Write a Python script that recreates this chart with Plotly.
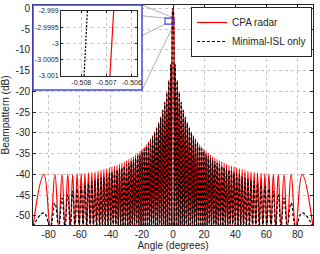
import plotly.graph_objects as go

# ---------------- data ----------------
# Side-lobe peak angles (deg) on the positive side (pattern is symmetric)
SIDELOBE_PEAK_DEG = [1.43, 2.72, 4.01, 5.31, 6.60, 7.90, 9.21, 10.52, 11.83, 13.15,
                     14.48, 15.81, 17.16, 18.51, 19.88, 21.25, 22.64, 24.05, 25.47, 26.90,
                     28.36, 29.83, 31.33, 32.85, 34.40, 35.98, 37.59, 39.24, 40.92, 42.65,
                     44.43, 46.26, 48.16, 50.14, 52.19, 54.34, 56.61, 59.04, 61.64, 64.49,
                     67.67, 71.35, 75.93, 83.0]
# Null angles (deg) between the lobes, positive side
SIDELOBE_NULL_DEG = [0.79, 2.08, 3.37, 4.66, 5.96, 7.25, 8.55, 9.86, 11.17, 12.49,
                     13.81, 15.14, 16.48, 17.83, 19.19, 20.56, 21.95, 23.34, 24.75, 26.18,
                     27.63, 29.09, 30.58, 32.09, 33.63, 35.19, 36.78, 38.41, 40.07, 41.77,
                     43.53, 45.34, 47.2, 49.14, 51.15, 53.25, 55.46, 57.81, 60.31, 63.03,
                     66.03, 69.43, 73.48, 78.89, 90.0]
NULL_DB = -52.6  # nulls fall below the bottom of the axis

CPA_PEAK_DB = [-13.5, -17.3, -20.2, -22.5, -24.4, -26.0, -27.4, -28.6, -29.7, -30.6,
               -31.4, -32.1, -32.8, -33.4, -33.9, -34.4, -34.9, -35.3, -35.7, -36.0,
               -36.4, -36.7, -37.0, -37.3, -37.5, -37.8, -38.0, -38.2, -38.4, -38.6,
               -38.8, -39.0, -39.2, -39.4, -39.5, -39.6, -39.7, -39.8, -39.9, -40.0,
               -40.0, -40.0, -40.0, -40.0]
ISL_PEAK_DB = [-13.6, -17.5, -20.4, -22.7, -24.6, -26.3, -27.7, -29.0, -30.1, -31.0,
               -31.8, -32.6, -33.3, -33.9, -34.5, -35.1, -35.6, -36.1, -36.5, -36.9,
               -37.3, -37.7, -38.0, -38.4, -38.7, -39.0, -39.3, -39.6, -39.9, -40.2,
               -40.6, -40.9, -41.2, -41.5, -41.8, -42.2, -42.6, -43.0, -43.5, -44.1,
               -44.8, -45.7, -46.9, -49.3]

# Main lobe
CPA_MAIN_DEG = [-0.5068, -0.25, 0.0, 0.25, 0.5068]
ISL_MAIN_DEG = [-0.5078, -0.25, 0.0, 0.25, 0.5078]
MAIN_DB = [-3.0, -0.75, 0.0, -0.75, -3.0]

# Inset (zoom near the -3 dB point)
INSET_DB = [-3.001, -2.999]
INSET_CPA_DEG = [-0.50687, -0.50672]
INSET_ISL_DEG = [-0.50789, -0.50776]

X_TICKS = [-80, -60, -40, -20, 0, 20, 40, 60, 80]
Y_TICKS = [0, -5, -10, -15, -20, -25, -30, -35, -40, -45, -50]
INSET_X_TICKS = [-0.508, -0.507, -0.506]
INSET_X_LABELS = ["-0.508", "-0.507", "-0.506"]
INSET_Y_TICKS = [-2.999, -2.9995, -3.0, -3.0005, -3.001]
INSET_Y_LABELS = ["-2.999", "-2.9995", "-3", "-3.0005", "-3.001"]

# zoom rectangle drawn on the main axes (data units)
ZOOM_BOX_X = [-5.14, 0.64]
ZOOM_BOX_Y = [-3.81, -2.36]

X_RANGE = [-90, 90]
Y_RANGE = [-52.2, 0.8]


def build(main_deg, peaks_db):
    n = len(SIDELOBE_PEAK_DEG)
    xs, ys = [], []
    for k in reversed(range(n)):
        xs += [-SIDELOBE_NULL_DEG[k + 1], -SIDELOBE_PEAK_DEG[k]]
        ys += [NULL_DB, peaks_db[k]]
    xs.append(-SIDELOBE_NULL_DEG[0]); ys.append(NULL_DB)
    xs += main_deg; ys += MAIN_DB
    xs.append(SIDELOBE_NULL_DEG[0]); ys.append(NULL_DB)
    for k in range(n):
        xs += [SIDELOBE_PEAK_DEG[k], SIDELOBE_NULL_DEG[k + 1]]
        ys += [peaks_db[k], NULL_DB]
    return xs, ys


cpa_x, cpa_y = build(CPA_MAIN_DEG, CPA_PEAK_DB)
isl_x, isl_y = build(ISL_MAIN_DEG, ISL_PEAK_DB)

FONT = "Liberation Sans, Arial, Helvetica, sans-serif"
AXC = "#262626"
GRID = "#c4c4c4"

fig = go.Figure()
fig.add_trace(go.Scatter(x=cpa_x, y=cpa_y, mode="lines", name="CPA radar",
                         line=dict(color="#ff0000", width=1.2, shape="spline", smoothing=1.3),
                         hoverinfo="skip"))
fig.add_trace(go.Scatter(x=isl_x, y=isl_y, mode="lines", name="Minimal-ISL only",
                         line=dict(color="#000000", width=1.2, dash="3px,2px", shape="spline",
                                   smoothing=1.3),
                         hoverinfo="skip"))
# carrier for the inset background box
fig.add_trace(go.Scatter(x=[], y=[], xaxis="x2", yaxis="y2", showlegend=False, hoverinfo="skip"))
fig.add_trace(go.Scatter(x=INSET_CPA_DEG, y=INSET_DB, xaxis="x3", yaxis="y3", mode="lines",
                         line=dict(color="#ff0000", width=1.2), showlegend=False, hoverinfo="skip"))
fig.add_trace(go.Scatter(x=INSET_ISL_DEG, y=INSET_DB, xaxis="x3", yaxis="y3", mode="lines",
                         line=dict(color="#000000", width=1.2, dash="2px,1.5px"),
                         showlegend=False, hoverinfo="skip"))

# layout geometry (pixels -> fractions of the plot area)
W, H = 320, 254
L, R, T, B = 33, 7, 5, 29
PW, PH = W - L - R, H - T - B


def px_x(p):
    return (p - L) / PW


def px_y(p):
    return 1 - (p - T) / PH


BOX = [px_x(33), px_x(142), px_y(90), px_y(5)]
INSET = [px_x(61), px_x(137), px_y(76), px_y(11)]


def dx(v):
    return (v - X_RANGE[0]) / (X_RANGE[1] - X_RANGE[0])


def dy(v):
    return (v - Y_RANGE[0]) / (Y_RANGE[1] - Y_RANGE[0])


main_axis = dict(showline=True, linecolor=AXC, linewidth=1, mirror="ticks", ticks="inside",
                 ticklen=3, tickcolor=AXC, showgrid=True, gridcolor=GRID, griddash="3px,3px",
                 gridwidth=1, zeroline=False, tickangle=0, automargin=False,
                 tickfont=dict(size=10, color=AXC, family=FONT))
inset_axis = dict(showline=True, linecolor=AXC, linewidth=1, mirror="ticks", ticks="inside",
                  ticklen=2, tickcolor=AXC, showgrid=True, gridcolor=GRID, griddash="3px,3px",
                  gridwidth=1, zeroline=False, tickangle=0, automargin=False,
                  tickfont=dict(size=7, color=AXC, family=FONT))

connector = dict(type="line", xref="paper", yref="paper", layer="below",
                 line=dict(color="#9a9a9a", width=0.8))

shapes = [
    dict(connector, x0=BOX[0], y0=BOX[3], x1=dx(ZOOM_BOX_X[0]), y1=dy(ZOOM_BOX_Y[1])),
    dict(connector, x0=BOX[1], y0=BOX[3], x1=dx(ZOOM_BOX_X[1]), y1=dy(ZOOM_BOX_Y[1])),
    dict(connector, x0=BOX[0], y0=BOX[2], x1=dx(ZOOM_BOX_X[0]), y1=dy(ZOOM_BOX_Y[0])),
    dict(connector, x0=BOX[1], y0=BOX[2], x1=dx(ZOOM_BOX_X[1]), y1=dy(ZOOM_BOX_Y[0])),
    dict(type="rect", xref="x2 domain", yref="y2 domain", x0=0, x1=1, y0=0, y1=1,
         fillcolor="#e1e6f3", line=dict(width=0), layer="below"),
    dict(type="rect", xref="x2 domain", yref="y2 domain", x0=0, x1=1, y0=0, y1=1,
         fillcolor="rgba(0,0,0,0)", line=dict(color="#4646d8", width=1.5), layer="above"),
    dict(type="rect", xref="x", yref="y", x0=ZOOM_BOX_X[0], x1=ZOOM_BOX_X[1],
         y0=ZOOM_BOX_Y[0], y1=ZOOM_BOX_Y[1], fillcolor="rgba(0,0,0,0)",
         line=dict(color="#3c3cdc", width=1.1), layer="above"),
]

fig.update_layout(
    width=W, height=H, margin=dict(l=L, r=R, t=T, b=B, autoexpand=False),
    paper_bgcolor="white", plot_bgcolor="white",
    font=dict(family=FONT, size=10, color=AXC),
    xaxis=dict(main_axis, range=X_RANGE, tickvals=X_TICKS, ticktext=[str(v) for v in X_TICKS],
               domain=[0, 1], title=dict(text="Angle (degrees)", standoff=1,
                                         font=dict(size=10, color=AXC))),
    yaxis=dict(main_axis, range=Y_RANGE, tickvals=Y_TICKS, ticktext=[str(v) for v in Y_TICKS],
               domain=[0, 1], title=dict(text="Beampattern (dB)", standoff=4,
                                         font=dict(size=10, color=AXC))),
    xaxis2=dict(domain=[BOX[0], BOX[1]], anchor="y2", range=[0, 1], visible=False, fixedrange=True),
    yaxis2=dict(domain=[BOX[2], BOX[3]], anchor="x2", range=[0, 1], visible=False, fixedrange=True),
    xaxis3=dict(inset_axis, domain=[INSET[0], INSET[1]], anchor="y3", range=[-0.5088, -0.5058],
                tickvals=INSET_X_TICKS, ticktext=INSET_X_LABELS),
    yaxis3=dict(inset_axis, domain=[INSET[2], INSET[3]], anchor="x3", range=[-3.001, -2.999],
                tickvals=INSET_Y_TICKS, ticktext=INSET_Y_LABELS),
    legend=dict(x=px_x(312), y=px_y(7), xanchor="right", yanchor="top",
                bgcolor="white", bordercolor=AXC, borderwidth=1, tracegroupgap=0,
                font=dict(size=10, color=AXC, family=FONT)),
    shapes=shapes,
    showlegend=True,
)

fig.write_html("out.html", config={"displayModeBar": False},
               post_script="document.body.style.margin='0';document.body.style.overflow='hidden';")
